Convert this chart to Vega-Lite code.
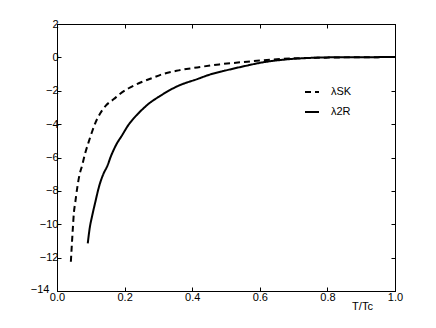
{
  "$schema": "https://vega.github.io/schema/vega-lite/v6.json",
  "width": 338,
  "height": 267,
  "autosize": "none",
  "padding": {"left": 57, "top": 24, "right": 41, "bottom": 37},
  "background": "white",
  "config": {
    "view": {"stroke": "black", "strokeWidth": 1},
    "font": "Liberation Sans",
    "axis": {
      "domainColor": "black", "tickColor": "black", "labelColor": "black",
      "labelFont": "Liberation Sans", "labelFontSize": 11, "grid": false,
      "tickSize": -4, "titleFont": "Liberation Sans", "titleFontWeight": "normal",
      "labelFlush": false, "labelOverlap": false
    },
    "legend": {"labelFont": "Liberation Sans", "labelFontSize": 11, "labelColor": "black"}
  },
  "data": {
    "values": [
      {"t": 0.041, "lambda": -12.25, "series": "λSK"},
      {"t": 0.044, "lambda": -11.2, "series": "λSK"},
      {"t": 0.047, "lambda": -10.2, "series": "λSK"},
      {"t": 0.050, "lambda": -9.3, "series": "λSK"},
      {"t": 0.054, "lambda": -8.7, "series": "λSK"},
      {"t": 0.060, "lambda": -7.8, "series": "λSK"},
      {"t": 0.067, "lambda": -7.0, "series": "λSK"},
      {"t": 0.074, "lambda": -6.5, "series": "λSK"},
      {"t": 0.084, "lambda": -5.7, "series": "λSK"},
      {"t": 0.094, "lambda": -5.05, "series": "λSK"},
      {"t": 0.103, "lambda": -4.5, "series": "λSK"},
      {"t": 0.113, "lambda": -3.95, "series": "λSK"},
      {"t": 0.128, "lambda": -3.35, "series": "λSK"},
      {"t": 0.145, "lambda": -2.88, "series": "λSK"},
      {"t": 0.168, "lambda": -2.5, "series": "λSK"},
      {"t": 0.187, "lambda": -2.18, "series": "λSK"},
      {"t": 0.212, "lambda": -1.85, "series": "λSK"},
      {"t": 0.242, "lambda": -1.55, "series": "λSK"},
      {"t": 0.28, "lambda": -1.25, "series": "λSK"},
      {"t": 0.316, "lambda": -0.98, "series": "λSK"},
      {"t": 0.36, "lambda": -0.78, "series": "λSK"},
      {"t": 0.415, "lambda": -0.6, "series": "λSK"},
      {"t": 0.48, "lambda": -0.42, "series": "λSK"},
      {"t": 0.563, "lambda": -0.26, "series": "λSK"},
      {"t": 0.63, "lambda": -0.14, "series": "λSK"},
      {"t": 0.70, "lambda": -0.06, "series": "λSK"},
      {"t": 0.78, "lambda": -0.02, "series": "λSK"},
      {"t": 0.85, "lambda": 0.0, "series": "λSK"},
      {"t": 0.92, "lambda": 0.01, "series": "λSK"},
      {"t": 1.0, "lambda": 0.02, "series": "λSK"},
      {"t": 0.091, "lambda": -11.15, "series": "λ2R"},
      {"t": 0.097, "lambda": -10.2, "series": "λ2R"},
      {"t": 0.104, "lambda": -9.5, "series": "λ2R"},
      {"t": 0.113, "lambda": -8.7, "series": "λ2R"},
      {"t": 0.125, "lambda": -7.7, "series": "λ2R"},
      {"t": 0.138, "lambda": -6.95, "series": "λ2R"},
      {"t": 0.148, "lambda": -6.55, "series": "λ2R"},
      {"t": 0.160, "lambda": -5.9, "series": "λ2R"},
      {"t": 0.178, "lambda": -5.13, "series": "λ2R"},
      {"t": 0.190, "lambda": -4.75, "series": "λ2R"},
      {"t": 0.212, "lambda": -4.03, "series": "λ2R"},
      {"t": 0.242, "lambda": -3.33, "series": "λ2R"},
      {"t": 0.27, "lambda": -2.8, "series": "λ2R"},
      {"t": 0.306, "lambda": -2.3, "series": "λ2R"},
      {"t": 0.355, "lambda": -1.74, "series": "λ2R"},
      {"t": 0.415, "lambda": -1.3, "series": "λ2R"},
      {"t": 0.454, "lambda": -1.02, "series": "λ2R"},
      {"t": 0.50, "lambda": -0.78, "series": "λ2R"},
      {"t": 0.56, "lambda": -0.5, "series": "λ2R"},
      {"t": 0.60, "lambda": -0.33, "series": "λ2R"},
      {"t": 0.68, "lambda": -0.12, "series": "λ2R"},
      {"t": 0.74, "lambda": -0.04, "series": "λ2R"},
      {"t": 0.80, "lambda": 0.0, "series": "λ2R"},
      {"t": 0.90, "lambda": 0.01, "series": "λ2R"},
      {"t": 1.0, "lambda": 0.02, "series": "λ2R"}
    ]
  },
  "layer": [
    {
      "mark": {"type": "line", "color": "black", "strokeWidth": 2, "interpolate": "monotone", "clip": true},
      "encoding": {
        "x": {"field": "t", "type": "quantitative", "scale": {"domain": [0, 1], "nice": false},
          "axis": {"orient": "bottom", "values": [0, 0.2, 0.4, 0.6, 0.8, 1.0], "format": ".1f", "labelPadding": 4,
            "title": "T/Tc", "titleFontSize": 11, "titleX": 305, "titleY": 15, "titleBaseline": "middle", "titleAnchor": "middle", "titleAlign": "center"}},
        "y": {"field": "lambda", "type": "quantitative", "scale": {"domain": [-14, 2], "nice": false},
          "axis": {"orient": "left", "values": [-14, -12, -10, -8, -6, -4, -2, 0, 2], "format": "d", "title": null,
            "labelPadding": {"condition": {"test": "datum.value == -14", "value": 12}, "value": 3},
            "labelOffset": {"condition": {"test": "datum.value == -14", "value": -2}, "value": 0}}},
        "strokeDash": {"field": "series", "type": "nominal",
          "scale": {"domain": ["λSK", "λ2R"], "range": [[6, 4], [1, 0]]},
          "legend": {"orient": "none", "legendX": 247, "legendY": 60, "title": null, "symbolType": "stroke",
            "symbolSize": 196, "symbolStrokeWidth": 2, "symbolStrokeColor": "black", "rowPadding": 7, "labelOffset": 11, "padding": 0}}
      }
    },
    {
      "mark": {"type": "line", "strokeOpacity": 0},
      "encoding": {
        "x": {"field": "t", "type": "quantitative",
          "axis": {"orient": "top", "values": [0, 0.2, 0.4, 0.6, 0.8, 1.0], "labels": false, "title": null}},
        "y": {"field": "lambda", "type": "quantitative",
          "axis": {"orient": "right", "values": [-14, -12, -10, -8, -6, -4, -2, 0, 2], "labels": false, "title": null}},
        "detail": {"field": "series"}
      }
    }
  ],
  "resolve": {"axis": {"x": "independent", "y": "independent"}}
}
